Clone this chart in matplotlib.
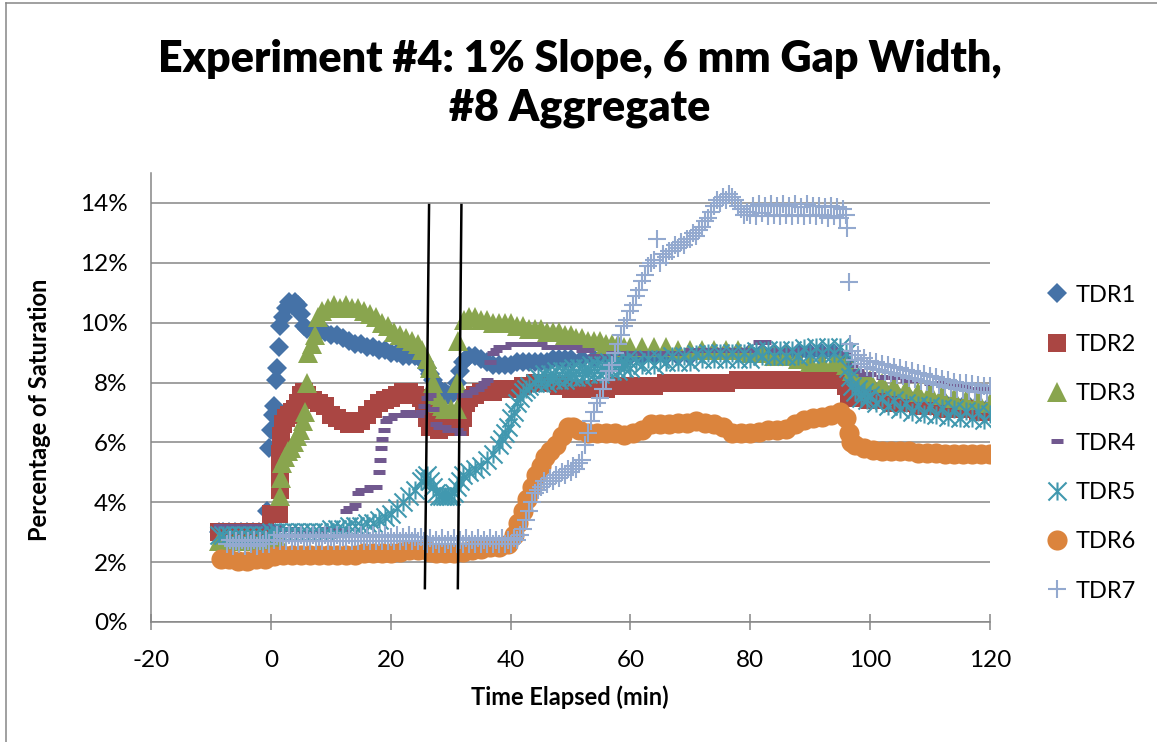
import numpy as np
import matplotlib.pyplot as plt
from matplotlib.path import Path
from matplotlib.lines import Line2D
from matplotlib.ticker import PercentFormatter, MultipleLocator

plt.rcParams['font.family'] = ['Lato', 'DejaVu Sans']
plt.rcParams['axes.unicode_minus'] = False

# readings as (time elapsed in min, saturation in %)
tdr1 = [(-8.7,3.0),(-8,3.0),(-7,3.0),(-6,3.0),(-5,3.0),(-4,3.0),(-3,3.0),(-2,3.0),(-1,3.0),
        (-0.6,3.7),(-0.3,5.8),(0,6.4),(0.3,6.9),(0.6,7.2),(0.9,8.1),(1.1,8.5),(1.3,9.2),(1.6,9.9),(2,10.2),
        (2.5,10.5),(3,10.7),(3.5,10.6),(4,10.7),(4.5,10.6),(5,10.3),(5.5,9.9),(6,9.8),(7,9.8),(8,9.7),
        (9,9.7),(10,9.6),(11,9.6),(12,9.5),(13,9.4),(14,9.3),(15,9.3),(16,9.2),(17,9.2),(18,9.1),
        (19,9.1),(20,9.0),(21,9.0),(22,8.9),(23,8.9),(24,8.9),(25,8.8),(25.5,8.7),(26,8.5),(26.5,8.3),
        (27,8.1),(27.5,7.9),(28,7.8),(28.5,7.7),(29,7.7),(29.5,7.6),(30,7.6),(30.5,7.7),(31,8.0),(31.5,8.4),
        (32,8.7),(32.5,8.8),(33,8.9),(34,8.9),(35,8.8),(36,8.7),(37,8.6),(38,8.6),(39,8.6),(40,8.6),
        (41,8.7),(42,8.7),(43,8.7),(44,8.7),(45,8.7),(46,8.7),(47,8.8),(48,8.8),(49,8.8),(50,8.8),
        (52,8.8),(54,8.8),(56,8.9),(58,8.9),(60,8.9),(62,8.9),(64,8.9),(66,8.9),(68,8.9),(70,8.9),
        (72,9.0),(74,9.0),(76,9.0),(78,9.0),(80,9.0),(82,9.0),(84,9.0),(86,9.0),(88,9.0),(90,9.0),
        (92,9.0),(94,9.0),(96,8.7),(97,8.3),(98,8.1),(100,7.9),(102,7.8),(104,7.7),(106,7.6),(108,7.5),
        (110,7.4),(112,7.4),(114,7.3),(116,7.3),(118,7.2),(120,7.2)]

tdr2 = [(-8.7,3.0),(-8,3.0),(-7,3.0),(-6,3.0),(-5,3.0),(-4,3.0),(-3,3.0),(-2,3.0),(-1,3.0),
        (0,3.6),(0.7,3.6),(1.3,3.6),(1.5,4.4),(1.5,5.0),(1.6,5.6),(1.7,6.2),(2,6.6),(2.5,6.8),(3,6.9),
        (3.5,7.0),(4,7.1),(4.5,7.3),(5,7.6),(5.5,7.7),(6,7.6),(7,7.4),(8,7.3),(9,7.2),(10,6.9),
        (11,6.8),(12,6.7),(13,6.6),(14,6.6),(15,6.7),(16,6.9),(17,7.1),(18,7.3),(19,7.4),(20,7.5),
        (21,7.6),(22,7.7),(23,7.7),(24,7.6),(25,7.5),(25.5,7.2),(26,6.8),(26.5,6.5),(27,6.8),(28,6.4),
        (29,6.7),(30,6.5),(31,6.8),(31.5,6.5),(32,6.8),(32.5,7.3),(33,7.5),(34,7.6),(35,7.7),(36,7.7),
        (37,7.7),(38,7.8),(39,7.8),(40,7.8),(42,7.9),(44,8.0),(46,8.0),(48,7.9),(50,7.8),(52,7.8),
        (54,7.8),(56,7.8),(58,7.9),(60,7.9),(62,7.9),(64,7.9),(66,8.0),(68,8.0),(70,8.0),(72,8.0),
        (74,8.0),(76,8.0),(78,8.1),(80,8.1),(82,8.1),(84,8.1),(86,8.1),(88,8.1),(90,8.1),(92,8.1),
        (94,8.1),(95,8.1),(96,7.9),(96.5,7.6),(97,7.5),(98,7.5),(100,7.4),(102,7.4),(104,7.3),(106,7.3),
        (108,7.2),(110,7.2),(112,7.1),(114,7.1),(116,7.1),(118,7.0),(120,7.0)]

tdr3 = [(-8.7,2.7),(-8,2.7),(-7,2.7),(-6,2.7),(-5,2.7),(-4,2.7),(-3,2.7),(-2,2.7),(-1,2.7),
        (0,2.8),(1,2.8),(1.5,4.2),(1.7,4.8),(1.9,5.3),(2.3,5.5),(2.8,5.7),(3.3,5.8),(3.8,6.0),(4.3,6.2),
        (4.8,6.4),(5.3,6.7),(5.7,7.0),(6.0,8.0),(6.2,9.0),(6.8,9.3),(7.3,9.6),(7.8,10.2),(8.5,10.4),(9.5,10.5),
        (10.5,10.6),(11.5,10.5),(12.5,10.6),(13.5,10.5),(14.5,10.5),(15.5,10.4),(16.5,10.3),(17.5,10.2),(18.5,10.0),(19.5,9.9),
        (20.5,9.7),(21.5,9.6),(22.5,9.5),(23.5,9.4),(24.5,9.3),(25.3,9.1),(26,8.8),(26.5,8.5),(27,8.0),(27.5,7.6),
        (28,7.3),(28.5,7.2),(29,7.1),(30,7.1),(31,7.1),(31.1,8.0),(31.3,9.4),(32.2,10.1),(33,10.2),(34,10.2),
        (35,10.1),(36,10.1),(37,10.0),(38,10.0),(39,10.0),(40,10.0),(41,9.9),(42,9.9),(43,9.8),(44,9.8),
        (45,9.8),(46,9.7),(47,9.7),(48,9.7),(49,9.6),(50,9.6),(51,9.5),(52,9.5),(53,9.4),(54,9.4),
        (55,9.4),(56,9.3),(57,9.3),(58,9.3),(59,9.2),(60,9.2),(62,9.2),(64,9.2),(66,9.2),(68,9.1),
        (70,9.1),(72,9.1),(74,9.1),(76,9.1),(78,9.1),(80,9.0),(82,9.0),(84,8.9),(86,8.9),(88,8.8),
        (90,8.7),(92,8.7),(94,8.7),(95,8.7),(96,8.6),(97,8.4),(98,8.2),(99,8.1),(100,8.1),(102,8.0),
        (104,7.9),(106,7.8),(108,7.7),(110,7.7),(112,7.6),(114,7.5),(116,7.4),(118,7.4),(120,7.3)]

tdr4 = [(-8.7,3.2),(-8,3.2),(-7,3.2),(-6,3.2),(-5,3.2),(-4,3.2),(-3,3.2),(-2,3.2),(-1,3.2),
        (0,3.2),(1,3.2),(2,3.1),(3,3.1),(4,3.1),(5,3.0),(6,3.0),(7,3.0),(8,3.0),(9,3.1),
        (10,3.1),(11,3.1),(12,3.1),(12.5,3.7),(13,3.8),(13.5,3.8),(14,3.9),(14.5,4.3),(15,4.4),(15.5,4.4),
        (16,4.4),(16.5,4.5),(17,4.5),(17.5,4.5),(18,5.0),(18.2,5.4),(18.4,5.8),(18.6,6.1),(18.8,6.4),(19.2,6.7),
        (19.6,6.8),(20,6.8),(20.5,6.9),(21,6.9),(21.5,6.9),(22,6.9),(22.5,7.0),(23,7.0),(23.5,6.9),(24,6.9),
        (24.5,6.9),(25,7.0),(25.5,7.2),(26,7.5),(26.5,7.6),(27,7.1),(27.5,6.6),(28,6.5),(28.5,6.5),(29,6.5),
        (29.5,6.4),(30,6.4),(30.5,6.4),(31,6.4),(31.5,6.3),(32,7.6),(32.5,7.6),(33,7.7),(33.5,7.7),(34,7.8),
        (34.5,7.8),(35,7.9),(35.5,8.0),(36,8.1),(36.5,8.7),(37,9.0),(37.5,9.1),(38,9.2),(39,9.2),(40,9.3),
        (41,9.3),(42,9.3),(43,9.3),(44,9.3),(45,9.3),(46,9.2),(47,9.2),(48,9.2),(49,9.2),(50,9.2),
        (51,9.2),(52,9.1),(53,9.1),(54,8.9),(55,8.9),(56,8.9),(57,9.0),(58,9.0),(59,9.0),(60,9.0),
        (62,9.0),(64,9.0),(66,9.0),(68,9.0),(70,9.1),(72,9.1),(74,9.1),(76,9.1),(78,9.1),(80,9.1),
        (81.5,9.35),(82.5,9.35),(84,9.1),(86,9.1),(88,9.1),(90,9.1),(92,9.1),(94,9.1),(96,9.0),(97,8.6),
        (98,8.4),(99,8.3),(100,8.3),(102,8.2),(104,8.2),(106,8.1),(108,8.1),(110,8.0),(112,8.0),(114,7.9),
        (116,7.9),(118,7.8),(120,7.8)]

tdr5 = [(-8.7,2.9),(-8,2.9),(-7,2.9),(-6,2.9),(-5,2.9),(-4,2.9),(-3,2.9),(-2,2.9),(-1,2.9),
        (0,3.0),(1,3.0),(2,3.0),(3,3.0),(4,3.0),(5,3.0),(6,3.0),(7,3.0),(8,3.0),(9,3.0),
        (10,3.1),(11,3.1),(12,3.1),(13,3.2),(14,3.2),(15,3.2),(16,3.3),(17,3.3),(18,3.4),(19,3.5),
        (20,3.6),(21,3.8),(22,4.0),(23,4.2),(24,4.4),(25,4.7),(25.5,4.8),(26,4.9),(26.5,4.7),(27,4.5),
        (27.5,4.3),(28,4.2),(28.5,4.2),(29,4.2),(29.5,4.2),(30,4.2),(30.5,4.3),(31,4.5),(31.5,4.7),(32,4.9),
        (33,5.0),(34,5.1),(35,5.2),(36,5.4),(37,5.6),(38,5.9),(38.5,6.1),(39,6.3),(39.5,6.5),(40,6.8),
        (40.5,7.0),(41,7.3),(41.5,7.5),(42,7.7),(42.5,7.8),(43,7.9),(44,8.0),(44.5,8.2),(45,8.0),(45.5,8.3),
        (46,8.0),(46.5,8.3),(47,8.1),(47.5,8.4),(48,8.1),(48.5,8.4),(49,8.1),(49.5,8.4),(50,8.2),(50.5,8.5),
        (51,8.2),(51.5,8.5),(52,8.2),(52.5,8.5),(53,8.3),(53.5,8.6),(54,8.3),(54.5,8.6),(55,8.3),(55.5,8.6),
        (56,8.4),(56.5,8.7),(57,8.4),(57.5,8.7),(58,8.4),(58.5,8.7),(59,8.5),(59.5,8.8),(60,8.5),(61,8.7),
        (62,8.6),(63,8.8),(64,8.6),(65,8.8),(66,8.7),(67,8.9),(68,8.7),(69,8.9),(70,8.7),(71,8.95),
        (72,8.8),(73,9.0),(74,8.8),(75,9.0),(76,8.8),(77,9.0),(78,8.8),(79,9.0),(80,8.8),(81,9.05),
        (82,8.9),(83,9.1),(84,8.9),(85,9.1),(86,8.9),(87,9.1),(88,8.9),(89,9.15),(90,8.95),(91,9.2),
        (92,9.0),(93,9.2),(94,9.0),(95,9.2),(96,9.0),(96.3,8.5),(96.6,8.2),(97,7.9),(97.5,7.7),(98,7.8),
        (98.5,7.5),(99,7.7),(99.5,7.4),(100,7.6),(101,7.3),(102,7.5),(103,7.2),(104,7.4),(105,7.1),(106,7.3),
        (107,7.0),(108,7.25),(109,6.95),(110,7.2),(111,6.9),(112,7.15),(113,6.85),(114,7.1),(115,6.8),(116,7.05),
        (117,6.8),(118,7.0),(119,6.75),(120,6.95)]

tdr6 = [(-8.3,2.1),(-7,2.1),(-5.5,2.05),(-4,2.05),(-2.5,2.1),(-1,2.1),(0.5,2.2),(2,2.25),(3.5,2.25),
        (5,2.25),(6.5,2.25),(8,2.25),(9.5,2.25),(11,2.25),(12.5,2.25),(14,2.25),(15.5,2.3),(17,2.3),(18.5,2.3),
        (20,2.3),(21.5,2.35),(23,2.4),(24.5,2.4),(25.5,2.45),(26.5,2.35),(27.5,2.3),(29,2.3),(30.5,2.3),(32,2.35),
        (33.5,2.4),(35,2.45),(36.5,2.5),(38,2.5),(39.5,2.6),(40.5,2.9),(41.3,3.3),(42,3.7),(42.7,4.1),(43.5,4.5),
        (44.2,4.9),(45,5.2),(45.7,5.5),(46.5,5.7),(47.5,5.9),(48.5,6.2),(49.5,6.5),(50.5,6.5),(51.5,6.4),(53,6.3),
        (54.5,6.3),(56,6.3),(57.5,6.3),(59,6.25),(60.5,6.3),(62,6.4),(63.5,6.6),(65,6.6),(66.5,6.6),(68,6.65),
        (69.5,6.65),(71,6.7),(72.5,6.65),(74,6.6),(75.5,6.5),(77,6.3),(78.5,6.3),(80,6.3),(81.5,6.35),(83,6.4),
        (84.5,6.4),(86,6.45),(87.5,6.6),(89,6.75),(90.5,6.8),(92,6.85),(93.5,6.9),(95,7.0),(96,6.8),(96.4,6.3),
        (96.8,6.0),(97.5,5.9),(99,5.8),(100.5,5.75),(102,5.7),(103.5,5.7),(105,5.7),(106.5,5.7),(108,5.65),(109.5,5.65),
        (111,5.65),(112.5,5.6),(114,5.6),(115.5,5.6),(117,5.6),(118.5,5.6),(120,5.6)]

tdr7 = [(-7.3,2.6),(-6.8,2.75),(-6.3,2.55),(-5.8,2.7),(-5.3,2.6),(-4.8,2.75),(-4.3,2.55),(-3.8,2.7),(-3.3,2.6),(-2.8,2.75),
        (-2.3,2.55),(-1.8,2.7),(-1.3,2.6),(-0.8,2.75),(-0.3,2.6),(0.5,2.75),(1,2.9),(1.5,2.7),(2,2.85),(2.5,2.7),
        (3,2.9),(3.5,2.7),(4,2.85),(4.5,2.7),(5,2.9),(5.5,2.7),(6,2.85),(6.5,2.7),(7,2.9),(7.5,2.7),
        (8,2.85),(8.5,2.7),(9,2.9),(9.5,2.7),(10,2.85),(10.5,2.7),(11,2.9),(11.5,2.7),(12,2.85),(12.5,2.7),
        (13,2.9),(13.5,2.7),(14,2.85),(14.5,2.7),(15,2.9),(15.5,2.7),(16,2.85),(16.5,2.7),(17,2.9),(17.5,2.7),
        (18,2.85),(18.5,2.7),(19,2.9),(19.5,2.7),(20,2.85),(20.5,2.7),(21,2.9),(21.5,2.7),(22,2.85),(22.5,2.7),
        (23,2.9),(23.5,2.7),(24,2.85),(24.5,2.7),(25,2.85),(25.5,2.7),(26,2.6),(26.5,2.8),(27,2.6),(27.5,2.75),
        (28,2.6),(28.5,2.8),(29,2.6),(29.5,2.75),(30,2.6),(30.5,2.8),(31,2.6),(31.5,2.75),(32,2.6),(32.5,2.8),
        (33,2.6),(33.5,2.75),(34,2.6),(34.5,2.8),(35,2.6),(35.5,2.75),(36,2.6),(36.5,2.8),(37,2.6),(37.5,2.75),
        (38,2.6),(38.5,2.8),(39,2.6),(39.5,2.75),(40,2.6),(40.5,2.8),(41,2.75),(41.5,2.9),(42,3.1),(42.5,3.4),
        (43,3.7),(43.5,4.0),(44,4.3),(44.5,4.4),(45,4.5),(45.5,4.7),(46,4.6),(46.5,4.8),(47,4.7),(47.5,4.9),
        (48,4.8),(48.5,5.0),(49,4.9),(49.5,5.1),(50,5.0),(50.5,5.2),(51,5.1),(51.5,5.3),(52,5.4),(52.5,5.9),
        (53,6.3),(53.5,6.7),(54,7.0),(54.5,7.3),(55,7.5),(55.5,7.8),(56,8.1),(56.5,8.4),(57,8.6),(57.5,9.0),
        (58,9.3),(58.5,9.6),(59,9.9),(59.5,10.1),(60,10.4),(60.5,10.6),(61,10.9),(61.5,11.1),(62,11.4),(62.5,11.6),
        (63,11.9),(63.5,12.0),(64,12.1),(64.5,12.8),(65,12.0),(65.5,12.3),(66,12.2),(66.5,12.4),(67,12.4),(67.5,12.6),
        (68,12.5),(68.5,12.7),(69,12.6),(69.5,12.8),(70,12.8),(70.5,13.0),(71,12.9),(71.5,13.1),(72,13.2),(72.5,13.4),
        (73,13.5),(73.5,13.7),(74,13.9),(74.5,14.1),(75,14.0),(75.5,14.2),(76,14.1),(76.5,14.3),(77,14.2),(77.5,14.1),
        (78,13.9),(78.5,13.8),(79,13.6),(79.5,13.7),(80,13.6),(80.5,13.9),(81,13.55),(81.5,13.95),(82,13.65),(82.5,13.9),
        (83,13.55),(83.5,13.95),(84,13.6),(84.5,13.9),(85,13.55),(85.5,13.95),(86,13.6),(86.5,13.9),(87,13.55),(87.5,13.95),
        (88,13.6),(88.5,13.85),(89,13.55),(89.5,13.95),(90,13.6),(90.5,13.9),(91,13.55),(91.5,13.9),(92,13.6),(92.5,13.85),
        (93,13.5),(93.5,13.9),(94,13.55),(94.5,13.85),(95,13.5),(95.5,13.8),(96,13.6),(96.2,13.15),(96.4,11.35),(96.7,9.3),
        (97,9.05),(97.5,8.75),(98,8.92),(98.5,8.63),(99,8.82),(99.5,8.53),(100,8.72),(100.5,8.46),(101,8.67),(101.5,8.41),
        (102,8.62),(102.5,8.36),(103,8.57),(103.5,8.31),(104,8.52),(104.5,8.26),(105,8.47),(105.5,8.21),(106,8.42),(106.5,8.16),
        (107,8.37),(107.5,8.11),(108,8.32),(108.5,8.06),(109,8.27),(109.5,8.01),(110,8.22),(110.5,7.96),(111,8.17),(111.5,7.91),
        (112,8.12),(112.5,7.86),(113,8.07),(113.5,7.81),(114,8.02),(114.5,7.77),(115,7.99),(115.5,7.74),(116,7.97),(116.5,7.71),
        (117,7.94),(117.5,7.68),(118,7.92),(118.5,7.67),(119,7.9),(119.5,7.65),(120,7.87)]

series_names = ['TDR1', 'TDR2', 'TDR3', 'TDR4', 'TDR5', 'TDR6', 'TDR7']

# hand drawn divider lines on the chart (time at top/bottom, saturation range)
divider_t = [(26.4, 25.7), (31.8, 31.2)]
divider_v = (13.93, 1.13)

# Excel "star" marker: an X with a vertical bar through it
star = Path([(-1, -1), (1, 1), (-1, 1), (1, -1), (0, -1), (0, 1)],
            [Path.MOVETO, Path.LINETO, Path.MOVETO, Path.LINETO, Path.MOVETO, Path.LINETO])

styles = [
    dict(marker='D', ms=10, color='#4572A7', mew=0),
    dict(marker='s', ms=13.5, color='#AA4643', mew=0),
    dict(marker='^', ms=14, color='#89A54E', mew=0),
    dict(marker='_', ms=9, color='#71588F', mew=3.6),
    dict(marker=star, ms=13, color='#4198AF', mfc='none', mew=1.5),
    dict(marker='o', ms=14.5, color='#DB843D', mew=0),
    dict(marker='+', ms=13.5, color='#93A9CF', mew=1.5),
]

grey = '#868686'

fig = plt.figure(figsize=(11.57, 7.42), dpi=100)
ax = fig.add_axes([151/1157, 1 - 622/742, (990 - 151)/1157, (622 - 173)/742])

for name, data, st in zip(series_names, [tdr1, tdr2, tdr3, tdr4, tdr5, tdr6, tdr7], styles):
    t, v = np.array(data).T
    ax.plot(t, v, linestyle='none', label=name, **st)

for tt in divider_t:
    ax.plot(tt, divider_v, color='black', lw=1.8, zorder=20)

ax.set_xlim(-20, 120)
ax.set_ylim(0, 15)
ax.xaxis.set_major_locator(MultipleLocator(20))
ax.set_yticks(np.arange(0, 15, 2))
ax.yaxis.set_major_formatter(PercentFormatter(decimals=0))
ax.grid(axis='y', color=grey, lw=1.1)
ax.set_axisbelow(True)
for s in ['top', 'right']:
    ax.spines[s].set_visible(False)
for s in ['left', 'bottom']:
    ax.spines[s].set_color(grey)
    ax.spines[s].set_linewidth(1.1)
ax.tick_params(axis='x', direction='inout', length=11, width=1.1, color=grey,
               labelsize=17.5, pad=15)
ax.tick_params(axis='y', length=0, labelsize=17.5, pad=17)

fig.text(580/1157, 1 - 72/742, 'Experiment #4: 1% Slope, 6 mm Gap Width,',
         ha='center', va='baseline', fontsize=31, fontweight='heavy')
fig.text(580/1157, 1 - 121/742, '#8 Aggregate',
         ha='center', va='baseline', fontsize=31, fontweight='heavy')
fig.text(40/1157, 1 - 410/742, 'Percentage of Saturation', rotation=90,
         ha='center', va='center', fontsize=17, fontweight='bold')
fig.text(570/1157, 1 - 697/742, 'Time Elapsed (min)',
         ha='center', va='center', fontsize=17, fontweight='bold')

fig.legend(loc='center left', bbox_to_anchor=(1045/1157, 1 - 443/742), frameon=False,
           fontsize=17, handlelength=1.0, handletextpad=0.3, labelspacing=1.2,
           borderpad=0, borderaxespad=0, numpoints=1)

# chart area border (left and top edges visible)
fig.add_artist(Line2D([6/1157, 6/1157], [0, 1 - 3/742], transform=fig.transFigure,
                      color=grey, lw=1.1))
fig.add_artist(Line2D([6/1157, 1], [1 - 3/742, 1 - 3/742], transform=fig.transFigure,
                      color=grey, lw=1.1))

fig.savefig('out.png', dpi=100)
